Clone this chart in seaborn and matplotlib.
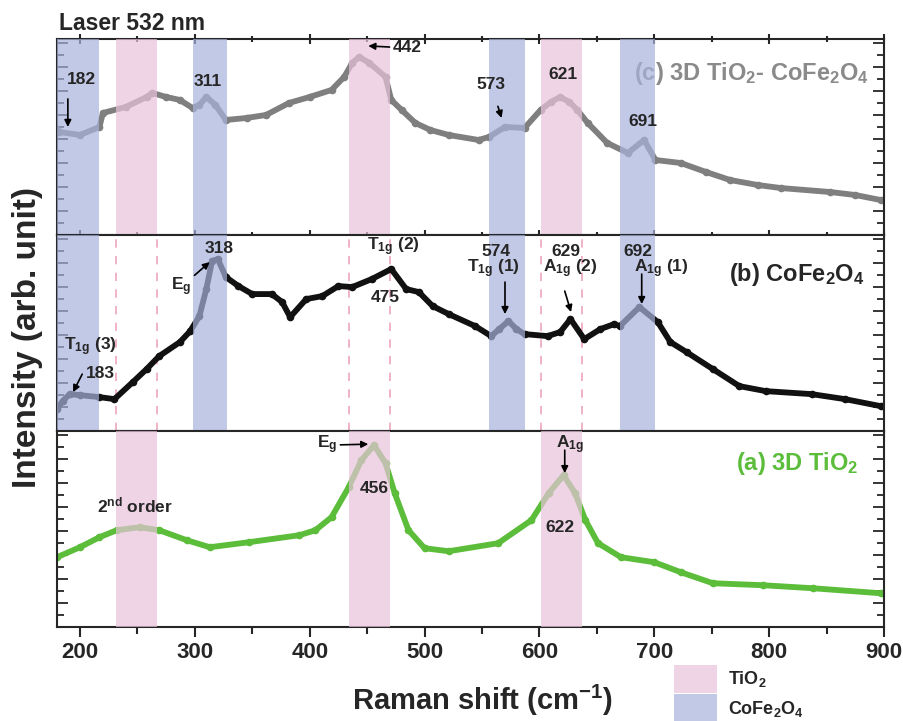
import numpy as np
import pandas as pd
import matplotlib
matplotlib.use("Agg")
import matplotlib.pyplot as plt
import seaborn as sns
from matplotlib.ticker import MultipleLocator
from matplotlib.patches import Patch

# Raman shift (cm-1) and intensity (arb. unit)
shift_c = [180, 182, 200, 217, 220, 240, 258, 263, 275, 287, 298, 304, 310, 318, 327, 345, 362, 382,
           400, 419, 430, 437, 443, 452, 466, 471, 480, 492, 505, 521, 547, 556, 570, 587, 601, 610,
           618, 626, 633, 642, 659, 677, 691, 701, 723, 745, 766, 790, 810, 853, 875, 897]
int_c = [105, 103, 100, 108, 122, 128, 138, 142, 138, 135, 127, 130, 138, 130, 115, 117, 120, 132,
         138, 145, 158, 172, 178, 172, 158, 135, 125, 112, 105, 100, 95, 98, 108, 107, 125, 133,
         138, 133, 125, 112, 92, 82, 95, 75, 72, 63, 55, 50, 47, 43, 40, 35]

shift_b = [180, 185, 191, 200, 217, 230, 246, 258, 269, 287, 296, 304, 310, 315, 320, 327, 338, 350,
           367, 376, 383, 397, 411, 425, 437, 454, 471, 484, 495, 507, 521, 544, 558, 565, 573, 580,
           587, 607, 618, 627, 639, 653, 665, 670, 687, 703, 714, 728, 751, 774, 797, 837, 866, 897]
int_b = [22, 30, 37, 36, 34, 32, 49, 62, 75, 89, 100, 115, 142, 170, 172, 154, 145, 137,
         137, 129, 114, 132, 135, 145, 144, 152, 162, 142, 139, 125, 117, 105, 95, 102, 110, 102,
         97, 95, 99, 112, 92, 102, 107, 105, 124, 109, 89, 79, 62, 45, 40, 37, 32, 25]

shift_a = [180, 200, 217, 232, 252, 269, 293, 313, 347, 391, 405, 419, 434, 445, 456, 466, 474, 486,
           500, 521, 564, 593, 608, 621, 631, 640, 651, 671, 700, 723, 751, 795, 838, 897]
int_a = [70, 80, 90, 97, 100, 97, 87, 80, 85, 92, 97, 110, 140, 167, 182, 164, 134, 97,
         79, 76, 84, 107, 134, 152, 134, 107, 84, 70, 65, 55, 44, 42, 39, 34]

# band regions (cm-1)
tio2_bands = [(231, 267), (434, 470), (601, 637)]
cfo_bands = [(178, 217), (298, 328), (556, 587), (670, 701)]

pink = "#e8c3da"
blue = "#a9b3dc"

sns.set_style("ticks")
plt.rcParams["font.family"] = ["Liberation Sans", "DejaVu Sans"]
plt.rcParams["font.weight"] = "bold"
plt.rcParams["mathtext.fontset"] = "custom"
plt.rcParams["mathtext.rm"] = "Liberation Sans:bold"
plt.rcParams["mathtext.it"] = "Liberation Sans:bold"
plt.rcParams["mathtext.bf"] = "Liberation Sans:bold"

fig, axes = plt.subplots(3, 1, sharex=True, figsize=(9.04, 7.21), dpi=100)
fig.subplots_adjust(left=0.063, right=0.978, top=0.946, bottom=0.130, hspace=0)
ax_c, ax_b, ax_a = axes

df_c = pd.DataFrame({"shift": shift_c, "I": int_c})
df_b = pd.DataFrame({"shift": shift_b, "I": int_b})
df_a = pd.DataFrame({"shift": shift_a, "I": int_a})

for ax, df, col in [(ax_c, df_c, "#7f7f7f"), (ax_b, df_b, "#111111"), (ax_a, df_a, "#5cbd3b")]:
    sns.lineplot(data=df, x="shift", y="I", ax=ax, color=col, linewidth=4.2,
                 marker="o", markersize=5.5, markeredgewidth=0, sort=False, zorder=2)

# bands over the data
for lo, hi in cfo_bands:
    ax_c.axvspan(lo, hi, color=blue, alpha=0.7, lw=0, zorder=3)
    ax_b.axvspan(lo, hi, color=blue, alpha=0.7, lw=0, zorder=3)
for lo, hi in tio2_bands:
    ax_c.axvspan(lo, hi, color=pink, alpha=0.7, lw=0, zorder=3)
    ax_a.axvspan(lo, hi, color=pink, alpha=0.7, lw=0, zorder=3)
    for v in (lo, hi):
        ax_b.axvline(v, color="#eea5bd", lw=1.2, ls=(0, (5, 5)), zorder=1)

for ax in axes:
    ax.set_xlim(180, 900)
    ax.set_ylim(0, 196)
    ax.set_xlabel("")
    ax.set_ylabel("")
    ax.xaxis.set_major_locator(MultipleLocator(100))
    ax.xaxis.set_minor_locator(MultipleLocator(50))
    ax.yaxis.set_major_locator(MultipleLocator(24))
    ax.yaxis.set_minor_locator(MultipleLocator(12))
    ax.tick_params(axis="y", which="both", direction="in", left=True, right=True, labelleft=False)
    ax.tick_params(axis="y", which="major", length=8, width=1.3)
    ax.tick_params(axis="y", which="minor", length=5, width=1.3)
    ax.tick_params(axis="x", which="both", direction="out", width=1.5)
    ax.tick_params(axis="x", which="major", length=7)
    ax.tick_params(axis="x", which="minor", length=5)
    for s in ax.spines.values():
        s.set_linewidth(1.5)
        s.set_visible(True)
ax_c.tick_params(axis="x", which="both", top=True, direction="inout")
ax_a.tick_params(axis="x", labelsize=16)
for lab in ax_a.get_xticklabels():
    lab.set_fontweight("bold")

arrow = dict(arrowstyle="-|>", color="black", lw=1.2, mutation_scale=10, shrinkA=0, shrinkB=0)
fs = 12.5

# (c) panel
ax_c.text(201, 155, "182", ha="center", va="center", fontsize=fs, zorder=4)
ax_c.annotate("", xy=(189.5, 108), xytext=(189.5, 136), arrowprops=arrow, zorder=4)
ax_c.text(311, 153, "311", ha="center", va="center", fontsize=fs, zorder=4)
ax_c.annotate("442", xy=(451, 189), xytext=(485, 187), ha="center", va="center",
              fontsize=fs, arrowprops=arrow, zorder=4)
ax_c.annotate("573", xy=(567, 117), xytext=(558, 150), ha="center", va="center",
              fontsize=fs, arrowprops=dict(arrow, shrinkA=8), zorder=4)
ax_c.text(620, 160, "621", ha="center", va="center", fontsize=fs, zorder=4)
ax_c.text(690, 113, "691", ha="center", va="center", fontsize=fs, zorder=4)
ax_c.text(887, 155, "(c) 3D TiO$_2$- CoFe$_2$O$_4$", ha="right", va="baseline",
          fontsize=17, color="#8a8a8a", zorder=2)

# (b) panel
ax_b.text(321, 183, "318", ha="center", va="center", fontsize=fs, zorder=4)
ax_b.annotate("E$_g$", xy=(313, 169), xytext=(288, 144), ha="center", va="center",
              fontsize=fs, arrowprops=arrow, zorder=4)
ax_b.text(473, 184, "T$_{1g}$ (2)", ha="center", va="center", fontsize=fs, zorder=4)
ax_b.text(466, 134, "475", ha="center", va="center", fontsize=fs, zorder=4)
ax_b.text(209, 84, "T$_{1g}$ (3)", ha="center", va="center", fontsize=fs, zorder=4)
ax_b.text(218, 58, "183", ha="center", va="center", fontsize=fs, zorder=4)
ax_b.annotate("", xy=(194, 39), xytext=(202, 57), arrowprops=arrow, zorder=4)
ax_b.text(562, 180, "574", ha="center", va="center", fontsize=fs, zorder=4)
ax_b.text(560, 162, "T$_{1g}$ (1)", ha="center", va="center", fontsize=fs, zorder=4)
ax_b.annotate("", xy=(570, 117), xytext=(570, 149), arrowprops=arrow, zorder=4)
ax_b.text(623, 180, "629", ha="center", va="center", fontsize=fs, zorder=4)
ax_b.text(627, 162, "A$_{1g}$ (2)", ha="center", va="center", fontsize=fs, zorder=4)
ax_b.annotate("", xy=(627.5, 119), xytext=(622, 140), arrowprops=arrow, zorder=4)
ax_b.text(686, 180, "692", ha="center", va="center", fontsize=fs, zorder=4)
ax_b.text(706, 162, "A$_{1g}$ (1)", ha="center", va="center", fontsize=fs, zorder=4)
ax_b.annotate("", xy=(689, 127), xytext=(689, 157), arrowprops=arrow, zorder=4)
ax_b.text(883, 150, "(b) CoFe$_2$O$_4$", ha="right", va="baseline", fontsize=17, zorder=4)

# (a) panel
ax_a.annotate("E$_g$", xy=(451, 183), xytext=(415, 182), ha="center", va="center",
              fontsize=fs, arrowprops=arrow, zorder=4)
ax_a.text(456, 139, "456", ha="center", va="center", fontsize=fs, zorder=4)
ax_a.text(248, 122, "2$^{nd}$ order", ha="center", va="center", fontsize=fs, zorder=4)
ax_a.text(627, 182, "A$_{1g}$", ha="center", va="center", fontsize=fs, zorder=4)
ax_a.annotate("", xy=(622, 154), xytext=(622, 177), arrowprops=arrow, zorder=4)
ax_a.text(618, 100, "622", ha="center", va="center", fontsize=fs, zorder=4)
ax_a.text(878, 157, "(a) 3D TiO$_2$", ha="right", va="baseline", fontsize=17,
          color="#5cbd3b", zorder=4)

fig.text(0.065, 1 - 23 / 721, "Laser 532 nm", ha="left", va="center", fontsize=16.5)
fig.text(28 / 904, 1 - 337 / 721, "Intensity (arb. unit)", rotation=90,
         ha="center", va="center", fontsize=24)
fig.text(483 / 904, 1 - 700 / 721, "Raman shift (cm$^{-1}$)", ha="center", va="center",
         fontsize=21)

handles = [Patch(facecolor=pink, edgecolor="none", alpha=0.7),
           Patch(facecolor=blue, edgecolor="none", alpha=0.7)]
leg = fig.legend(handles, ["TiO$_2$", "CoFe$_2$O$_4$"], loc="upper left",
                 bbox_to_anchor=(661 / 904, 1 - 652 / 721), frameon=False,
                 handlelength=2.4, handleheight=2.0, labelspacing=0.1, handletextpad=0.6,
                 borderpad=0.2, prop={"weight": "bold", "size": 13})

fig.savefig("out.png", dpi=100)
